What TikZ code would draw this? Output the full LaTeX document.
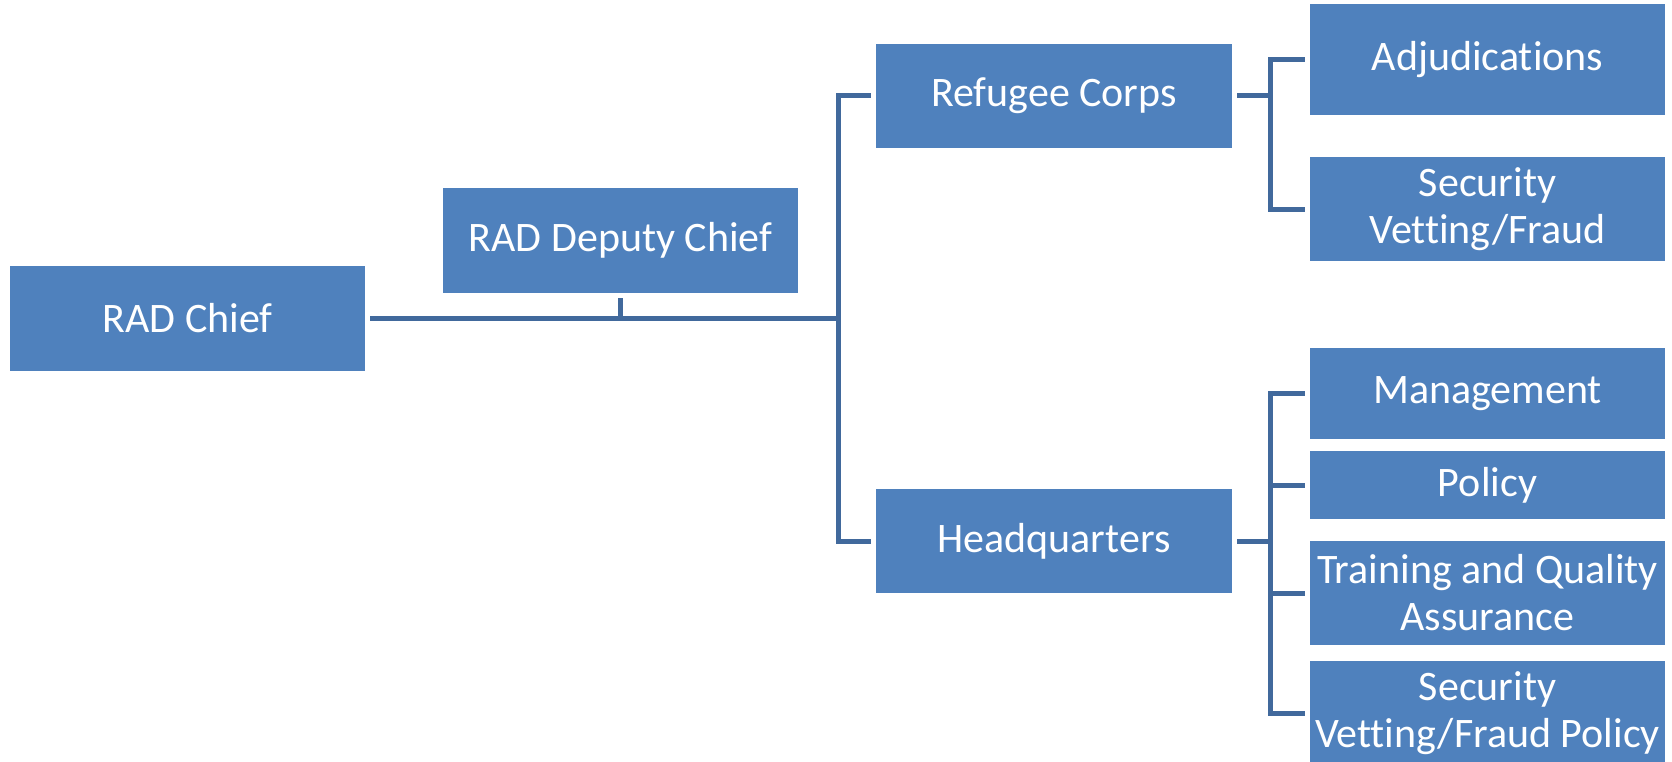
\documentclass[tikz,border=0pt]{standalone}
\usepackage{fontspec}
\setmainfont[Ligatures={NoCommon}]{Carlito}
\definecolor{boxblue}{HTML}{4F81BD}
\definecolor{linkblue}{HTML}{41699C}
\begin{document}
\begin{tikzpicture}[x=1pt,y=-1pt,
  unit/.style={fill=boxblue, draw=none, text=white, inner sep=0pt,
    align=center, font=\fontsize{42}{47}\selectfont},
  conn/.style={draw=linkblue, line width=5pt}]
\useasboundingbox (0,0) rectangle (1672,762);

% boxes: centre, width, height
\node[unit, minimum width=355, minimum height=105] (chief)    at (187.5,318.5) {RAD Chief};
\node[unit, minimum width=355, minimum height=105] (deputy)   at (620.5,240.5) {RAD Deputy Chief};
\node[unit, minimum width=356, minimum height=104] (refugee)  at (1054,96)     {Refugee Corps};
\node[unit, minimum width=356, minimum height=104] (hq)       at (1054,541)    {Headquarters};
\node[unit, minimum width=355, minimum height=111] (adj)      at (1487.5,59.5) {Adjudications};
\node[unit, minimum width=355, minimum height=104] (sec)      at (1487.5,209)  {Security\\Vetting/Fraud};
\node[unit, minimum width=355, minimum height=91]  (mgmt)     at (1487.5,393.5){Management};
\node[unit, minimum width=355, minimum height=68]  (policy)   at (1487.5,485)  {Policy};
\node[unit, minimum width=355, minimum height=104] (training) at (1487.5,593)  {Training and Quality\\Assurance};
\node[unit, minimum width=355, minimum height=104] (secpol)   at (1487.5,713)  {Security\\Vetting/Fraud Policy};

% trunk and branch columns
\coordinate (trunk) at (838,0);
\coordinate (rb) at (1270,0);

% chief to the two divisions
\draw[conn, shorten <=5pt] (chief.east) -- (chief.east -| trunk);
\draw[conn, shorten <=5pt] (deputy.south) -- (deputy.south |- chief.east);
\draw[conn, shorten <=5pt, shorten >=5pt] (refugee.west) -- (refugee.west -| trunk) |- (hq.west);

% Refugee Corps branches
\draw[conn, shorten <=5pt] (refugee.east) -- (refugee.east -| rb);
\draw[conn, shorten <=5pt, shorten >=5pt] (adj.west) -- (adj.west -| rb) |- (sec.west);

% Headquarters branches
\draw[conn, shorten <=5pt] (hq.east) -- (hq.east -| rb);
\draw[conn, shorten <=5pt, shorten >=5pt] (mgmt.west) -- (mgmt.west -| rb) |- (secpol.west);
\draw[conn, shorten >=5pt] (rb |- policy.west) -- (policy.west);
\draw[conn, shorten >=5pt] (rb |- training.west) -- (training.west);
\end{tikzpicture}
\end{document}
